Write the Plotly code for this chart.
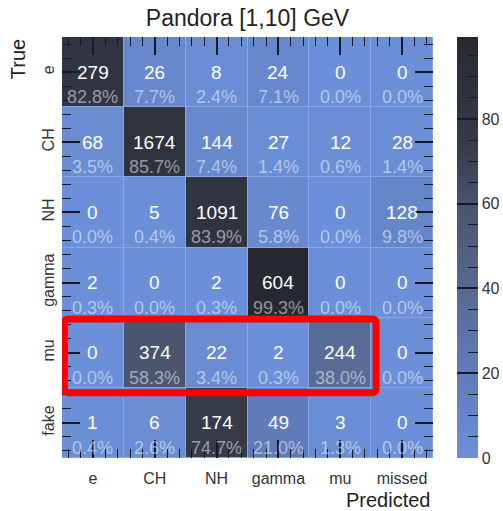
import numpy as np
import plotly.graph_objects as go

# Confusion matrix of Pandora particle ID, 1-10 GeV
predicted_labels = ["e", "CH", "NH", "gamma", "mu", "missed"]
true_labels = ["e", "CH", "NH", "gamma", "mu", "fake"]

row_e = [279, 26, 8, 24, 0, 0]
row_ch = [68, 1674, 144, 27, 12, 28]
row_nh = [0, 5, 1091, 76, 0, 128]
row_gamma = [2, 0, 2, 604, 0, 0]
row_mu = [0, 374, 22, 2, 244, 0]
row_fake = [1, 6, 174, 49, 3, 0]

highlight_row = "mu"
highlight_cols = ["e", "CH", "NH", "gamma", "mu"]

counts = np.array([row_e, row_ch, row_nh, row_gamma, row_mu, row_fake], dtype=float)
# row-normalised fractions in percent
pct = 100.0 * counts / counts.sum(axis=1, keepdims=True)
zmax = float(pct.max())

xs = list(range(len(predicted_labels)))
ys = list(range(len(true_labels)))

palette = [
    [0.00, "#6b8fd8"],
    [0.20, "#607cbb"],
    [0.40, "#566a92"],
    [0.60, "#4a546d"],
    [0.75, "#363b4a"],
    [1.00, "#26292f"],
]

TICK = "#141a2b"
LABEL = "#333333"
FONT = "Liberation Sans, Arial, Helvetica, sans-serif"

W, H = 503, 511
CB_LEFT = 457  # colour bar left edge, px

cb_common = dict(
    thickness=21, len=1.0, lenmode="fraction", y=0.5, yanchor="middle",
    x=CB_LEFT / W, xanchor="left", xref="container", xpad=0, ypad=0,
    outlinewidth=0,
)

fig = go.Figure()

# filled cells; this colour bar carries the minor ticks
fig.add_trace(go.Heatmap(
    z=pct, x=xs, y=ys, zmin=0, zmax=zmax,
    colorscale=palette, xgap=1, ygap=1, hoverinfo="skip",
    colorbar=dict(
        **cb_common,
        tickmode="linear", tick0=0, dtick=5, ticks="inside", ticklen=10,
        tickwidth=1.3, tickcolor=TICK, showticklabels=False,
    ),
))

# transparent twin that supplies the labelled major ticks of the colour bar
fig.add_trace(go.Heatmap(
    z=pct, x=xs, y=ys, zmin=0, zmax=zmax,
    colorscale=[[0, "rgba(0,0,0,0)"], [1, "rgba(0,0,0,0)"]],
    hoverinfo="skip",
    colorbar=dict(
        **cb_common,
        tickmode="linear", tick0=0, dtick=20, ticks="inside", ticklen=21,
        tickwidth=1.6, tickcolor=TICK,
        tickfont=dict(family=FONT, size=16, color=LABEL),
    ),
))

# cell labels: count on the centre line, percentage below
annotations = []
for i in ys:
    for j in xs:
        annotations.append(dict(
            x=j, y=i, xref="x", yref="y", showarrow=False,
            text=f"{int(counts[i, j])}",
            font=dict(family=FONT, size=19, color="#ffffff"),
        ))
        annotations.append(dict(
            x=j, y=i, xref="x", yref="y", showarrow=False, yshift=-25,
            text=f"{pct[i, j]:.1f}%",
            font=dict(family=FONT, size=18, color="rgba(255,255,255,0.5)"),
        ))

annotations.append(dict(
    text="True", xref="paper", yref="paper", x=-0.118, y=1.0,
    xanchor="center", yanchor="top", textangle=-90, showarrow=False,
    font=dict(family=FONT, size=20, color="#222222"),
))
annotations.append(dict(
    text="Predicted", xref="paper", yref="paper", x=1.0, y=-0.1,
    xanchor="right", yanchor="middle", showarrow=False,
    font=dict(family=FONT, size=20, color="#222222"),
))

# outline around the highlighted row (rounded corners)
r = true_labels.index(highlight_row)
c0 = predicted_labels.index(highlight_cols[0])
c1 = predicted_labels.index(highlight_cols[-1])
bx0, bx1 = c0 - 0.46, c1 + 0.58
by0, by1 = r - 0.48, r + 0.57
rx, ry = 0.07, 0.06
box_path = (
    f"M {bx0 + rx},{by0} L {bx1 - rx},{by0} Q {bx1},{by0} {bx1},{by0 + ry} "
    f"L {bx1},{by1 - ry} Q {bx1},{by1} {bx1 - rx},{by1} "
    f"L {bx0 + rx},{by1} Q {bx0},{by1} {bx0},{by1 - ry} "
    f"L {bx0},{by0 + ry} Q {bx0},{by0} {bx0 + rx},{by0} Z"
)

axis_common = dict(
    tickmode="array", ticks="inside", ticklen=18, tickwidth=1.5, tickcolor=TICK,
    mirror="ticks", showline=False, showgrid=False, zeroline=False,
    tickfont=dict(family=FONT, size=16, color=LABEL),
    minor=dict(ticks="inside", ticklen=9, tickwidth=1.2, tickcolor=TICK,
               tick0=0, dtick=0.2, showgrid=False),
)

fig.update_layout(
    width=W, height=H,
    margin=dict(l=62, r=70, t=37, b=53, autoexpand=False),
    paper_bgcolor="#ffffff", plot_bgcolor="#8aa5e3",
    title=dict(text="Pandora [1,10] GeV", x=0.5, xref="paper", xanchor="center",
               y=1 - 18 / H, yref="container", yanchor="middle",
               font=dict(family=FONT, size=23, color="#222222")),
    xaxis=dict(range=[-0.5, len(xs) - 0.5], tickvals=xs, ticktext=predicted_labels,
               ticklabelstandoff=9, **axis_common),
    yaxis=dict(range=[len(ys) - 0.5, -0.5], tickvals=ys, ticktext=true_labels,
               tickangle=-90, ticklabelstandoff=4, **axis_common),
    annotations=annotations,
    shapes=[dict(type="path", path=box_path, xref="x", yref="y",
                 line=dict(color="#ff0000", width=7), layer="above")],
    showlegend=False,
)

fig.write_html("out.html")
